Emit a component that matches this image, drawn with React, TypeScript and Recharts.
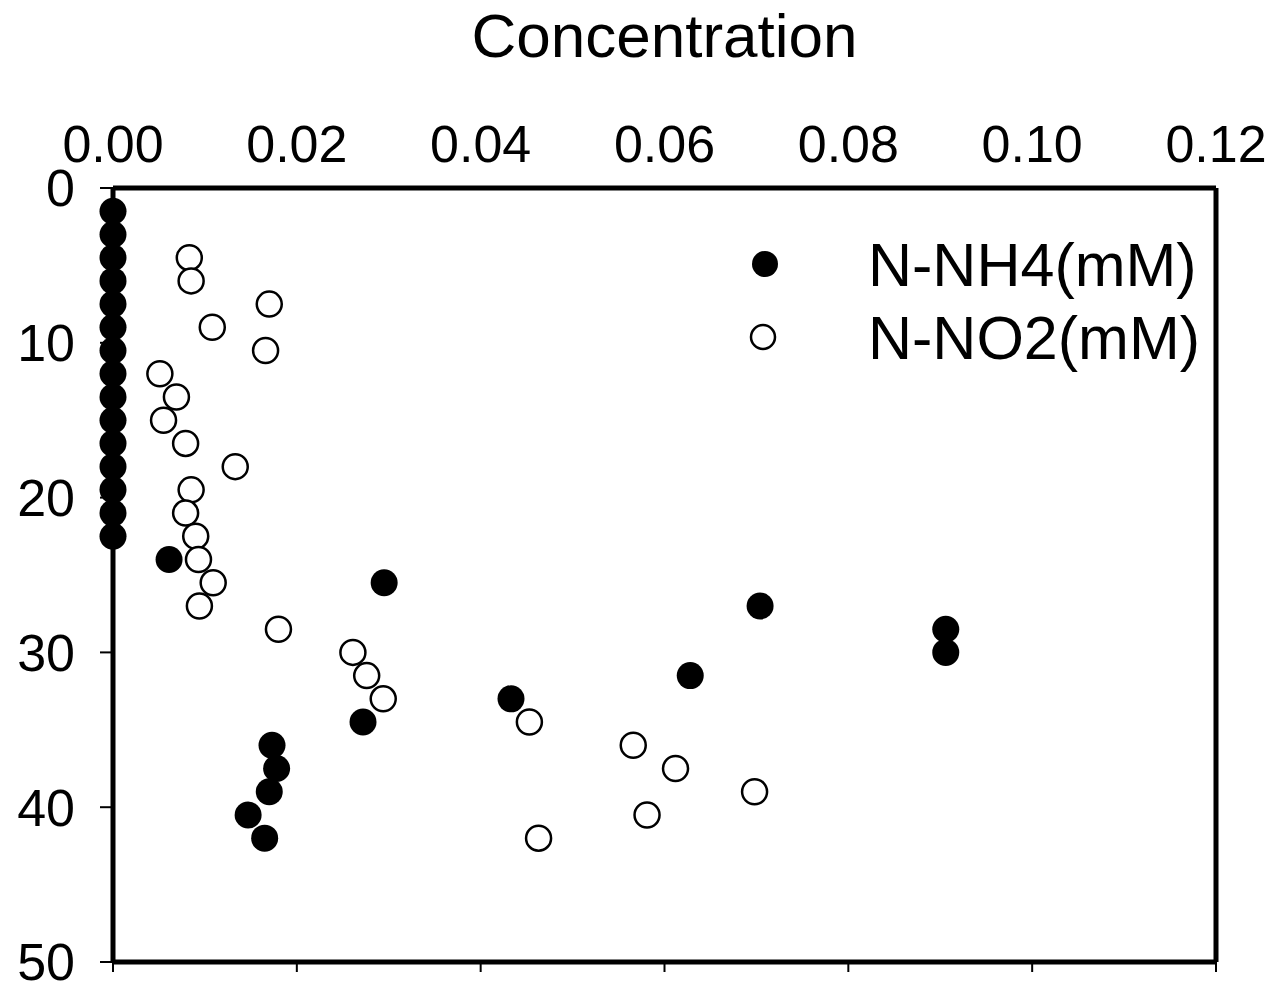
import { ScatterChart, Scatter, XAxis, YAxis, Legend } from "recharts";

const FONT = "'Liberation Sans', Arial, sans-serif";

const xTicks = [0, 0.02, 0.04, 0.06, 0.08, 0.1, 0.12];
const yTicks = [0, 10, 20, 30, 40, 50];

// depth (y) vs concentration (x)
const nh4Depth = [
  1.5, 3, 4.5, 6, 7.5, 9, 10.5, 12, 13.5, 15, 16.5, 18, 19.5, 21, 22.5, 24,
  25.5, 27, 28.5, 30, 31.5, 33, 34.5, 36, 37.5, 39, 40.5, 42,
];
const nh4Conc = [
  0, 0, 0, 0, 0, 0, 0, 0, 0, 0, 0, 0, 0, 0, 0, 0.0061, 0.0295, 0.0704, 0.0906,
  0.0906, 0.0628, 0.0433, 0.0272, 0.0173, 0.0178, 0.017, 0.0147, 0.0165,
];

const no2Depth = [
  4.5, 6, 7.5, 9, 10.5, 12, 13.5, 15, 16.5, 18, 19.5, 21, 22.5, 24, 25.5, 27,
  28.5, 30, 31.5, 33, 34.5, 36, 37.5, 39, 40.5, 42,
];
const no2Conc = [
  0.0083, 0.0085, 0.017, 0.0108, 0.0166, 0.0051, 0.0069, 0.0055, 0.0079,
  0.0133, 0.0085, 0.0079, 0.009, 0.0093, 0.0109, 0.0094, 0.018, 0.0261, 0.0276,
  0.0294, 0.0453, 0.0566, 0.0612, 0.0698, 0.0581, 0.0463,
];

const nh4Data = nh4Depth.map((d, i) => ({ x: nh4Conc[i], y: d }));
const no2Data = no2Depth.map((d, i) => ({ x: no2Conc[i], y: d }));

const FilledDot = (p: any) => (
  <circle cx={p.cx} cy={p.cy} r={13.5} fill="#000" />
);
const OpenDot = (p: any) => (
  <circle
    cx={p.cx}
    cy={p.cy}
    r={12.5}
    fill="#fff"
    stroke="#000"
    strokeWidth={2.5}
  />
);

const renderLegend = (props: any) => {
  const items = props.payload || [];
  return (
    <svg width={480} height={150} style={{ display: "block" }}>
      {items.map((entry: any, i: number) => {
        const cy = 38 + i * 73;
        return (
          <g key={entry.value}>
            {i === 0 ? (
              <circle cx={25} cy={cy} r={13} fill="#000" />
            ) : (
              <circle
                cx={23}
                cy={cy}
                r={12}
                fill="#fff"
                stroke="#000"
                strokeWidth={2.5}
              />
            )}
            <text
              x={128}
              y={cy}
              dy="0.36em"
              fontSize={61}
              fontFamily={FONT}
              fill="#000"
            >
              {entry.value}
            </text>
          </g>
        );
      })}
    </svg>
  );
};

export default function App() {
  return (
    <div
      style={{
        position: "absolute",
        left: 0,
        top: 0,
        width: 1279,
        height: 984,
        background: "#fff",
      }}
    >
      <ScatterChart
        width={1279}
        height={984}
        margin={{ top: 0, right: 0, bottom: 0, left: 0 }}
      >
        <XAxis
          xAxisId="top"
          orientation="top"
          type="number"
          dataKey="x"
          domain={[0, 0.12]}
          ticks={xTicks}
          interval={0}
          height={188}
          tickFormatter={(v: number) => v.toFixed(2)}
          axisLine={{ stroke: "#000", strokeWidth: 5 }}
          tickLine={false}
          tickSize={0}
          tickMargin={26}
          tick={{ fontSize: 52, fill: "#000", fontFamily: FONT }}
          label={{
            value: "Concentration",
            position: "insideTop",
            offset: 13,
            fontSize: 62,
            fill: "#000",
            fontFamily: FONT,
          }}
        />
        <XAxis
          xAxisId="bottom"
          orientation="bottom"
          type="number"
          dataKey="x"
          domain={[0, 0.12]}
          allowDataOverflow
          ticks={xTicks}
          interval={0}
          height={22}
          axisLine={{ stroke: "#000", strokeWidth: 5 }}
          tickLine={{ stroke: "#000", strokeWidth: 2 }}
          tickSize={10}
          tickFormatter={() => ""}
          tick={{ fontSize: 1 }}
        />
        <YAxis
          yAxisId="left"
          type="number"
          dataKey="y"
          domain={[0, 50]}
          reversed
          ticks={yTicks}
          interval={0}
          width={113}
          axisLine={{ stroke: "#000", strokeWidth: 5 }}
          tickLine={{ stroke: "#000", strokeWidth: 2 }}
          tickSize={13}
          tickMargin={25}
          tick={{ fontSize: 52, fill: "#000", fontFamily: FONT }}
        />
        <YAxis
          yAxisId="right"
          orientation="right"
          type="number"
          domain={[0, 50]}
          reversed
          width={63}
          axisLine={{ stroke: "#000", strokeWidth: 5 }}
          tickLine={false}
          tick={false}
        />
        <Legend
          layout="vertical"
          align="center"
          verticalAlign="middle"
          content={renderLegend}
          wrapperStyle={{ left: 740, top: 226, width: 480 }}
        />
        <Scatter
          name="N-NH4(mM)"
          data={nh4Data}
          xAxisId="top"
          yAxisId="left"
          shape={FilledDot}
          isAnimationActive={false}
        />
        <Scatter
          name="N-NO2(mM)"
          data={no2Data}
          xAxisId="bottom"
          yAxisId="left"
          shape={OpenDot}
          isAnimationActive={false}
        />
      </ScatterChart>
    </div>
  );
}
